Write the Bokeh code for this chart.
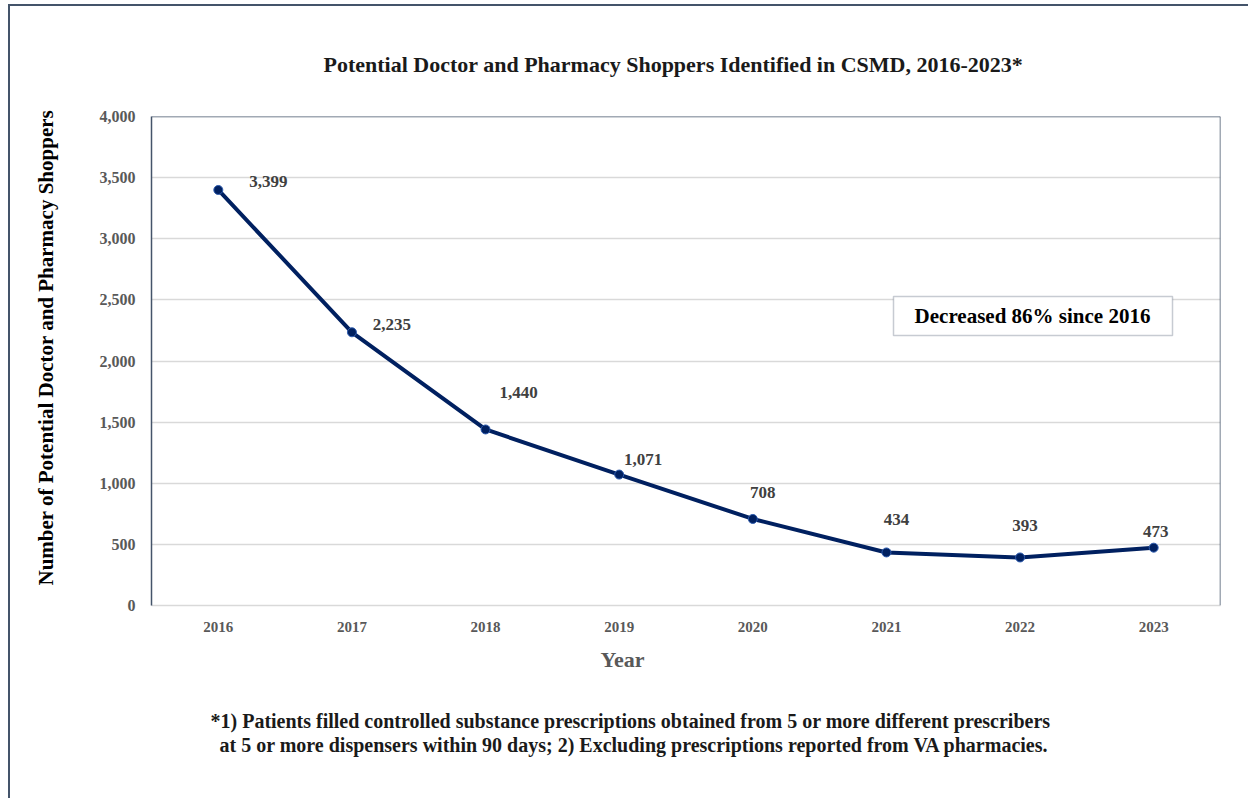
from bokeh.plotting import figure
from bokeh.models import (ColumnDataSource, LabelSet, Label, Span, BoxAnnotation, Title,
                          NumeralTickFormatter, FixedTicker, Range1d, FactorRange)
from bokeh.embed import file_html
from bokeh.resources import INLINE

# ---- data ----
years = ["2016", "2017", "2018", "2019", "2020", "2021", "2022", "2023"]
shoppers = [3399, 2235, 1440, 1071, 708, 434, 393, 473]
value_labels = ["3,399", "2,235", "1,440", "1,071", "708", "434", "393", "473"]
y_ticks = [0, 500, 1000, 1500, 2000, 2500, 3000, 3500, 4000]

title_text = "Potential Doctor and Pharmacy Shoppers Identified in CSMD, 2016-2023*"
y_label_text = "Number of Potential Doctor and Pharmacy Shoppers"
x_label_text = "Year"
note_text = "Decreased 86% since 2016"
foot_line1 = "*1) Patients filled controlled substance prescriptions obtained from 5 or more different prescribers"
foot_line2 = "at 5 or more dispensers within 90 days; 2) Excluding prescriptions reported from VA pharmacies."

# label offsets (pixels) - style
lab_dx = [50, 40, 33, 24, 10, 10, 5, 2]
lab_dy = [8, 8, 37, 15, 26, 33, 32, 16]

FONT = "Liberation Serif"
NAVY = "#002060"
FRAME = "#44546A"
GRID = "#D9D9D9"

src = ColumnDataSource(dict(x=years, y=shoppers, lab=value_labels, dx=lab_dx, dy=lab_dy))

p = figure(x_range=FactorRange(*years, range_padding=0), y_range=Range1d(0, 4000),
           width=1238, height=792, frame_width=1069, frame_height=489,
           min_border_left=141, min_border_right=28, min_border_top=110, min_border_bottom=193,
           output_backend="svg", toolbar_location=None)
p.outline_line_color = None
p.background_fill_color = "white"
p.border_fill_color = "white"
p.styles = {"margin-left": "8px", "margin-top": "4px",
            "border-left": "2px solid #44546A", "border-top": "2px solid #44546A"}

# axes
p.yaxis.ticker = FixedTicker(ticks=y_ticks)
p.yaxis.formatter = NumeralTickFormatter(format="0,0")
for ax in (p.xaxis[0], p.yaxis[0]):
    ax.major_tick_line_color = None
    ax.minor_tick_line_color = None
    ax.major_label_text_font = FONT
    ax.major_label_text_color = "#595959"
    ax.major_label_text_font_style = "bold"
p.xaxis.major_label_text_font_size = "15px"
p.yaxis.major_label_text_font_size = "16px"
p.yaxis.axis_line_color = FRAME
p.yaxis.axis_line_width = 1.5
p.yaxis.major_label_standoff = 10
p.xaxis.axis_line_color = GRID
p.xaxis.axis_line_width = 1.5
p.xaxis.major_label_standoff = 10

p.xgrid.grid_line_color = None
p.ygrid.grid_line_color = GRID
p.ygrid.grid_line_width = 1.5
p.ygrid.ticker = FixedTicker(ticks=y_ticks[1:-1])

# frame top and right edges
p.add_layout(Span(location=4000, dimension="width", line_color=FRAME, line_width=1.5))
p.add_layout(Span(location=len(years), dimension="height", line_color=FRAME, line_width=1.5))

# data
p.line("x", "y", source=src, line_color=NAVY, line_width=4)
p.scatter("x", "y", source=src, size=9, fill_color=NAVY, line_color="#2F5DB0", line_width=1)

p.add_layout(LabelSet(x="x", y="y", text="lab", source=src, x_offset="dx", y_offset="dy",
                      text_font=FONT, text_font_size="17px", text_font_style="bold",
                      text_color="#404040", text_align="center", text_baseline="middle"))

# annotation box
p.add_layout(BoxAnnotation(left=742, right=1021, bottom=270, top=309,
                           left_units="screen", right_units="screen",
                           bottom_units="screen", top_units="screen",
                           fill_color="white", fill_alpha=1, line_color=FRAME, line_width=1.5))
p.add_layout(Label(x=881, y=290, x_units="screen", y_units="screen", text=note_text,
                   text_font=FONT, text_font_size="21px", text_font_style="bold",
                   text_color="black", text_align="center", text_baseline="middle"))

# titles around the frame
def ttl(text, side, size, offset, standoff, color="black"):
    t = Title(text=text, align="left", offset=offset, standoff=standoff,
              text_font=FONT, text_font_size=size, text_font_style="bold", text_color=color)
    p.add_layout(t, side)

def spacer(side, standoff):
    p.add_layout(Title(text=" ", text_font_size="1px", standoff=standoff), side)

ttl(title_text, "above", "22px", 172, 80, "#1a1a1a")
spacer("left", 18)
ttl(y_label_text, "left", "21px", 20, 36)
ttl(x_label_text, "below", "22px", 449, 21, "#595959")
spacer("below", 22)
ttl(foot_line1, "below", "20px", 59, 0, "#1a1a1a")
ttl(foot_line2, "below", "20px", 68, 0, "#1a1a1a")

open("out.html", "w").write(file_html(p, INLINE))
